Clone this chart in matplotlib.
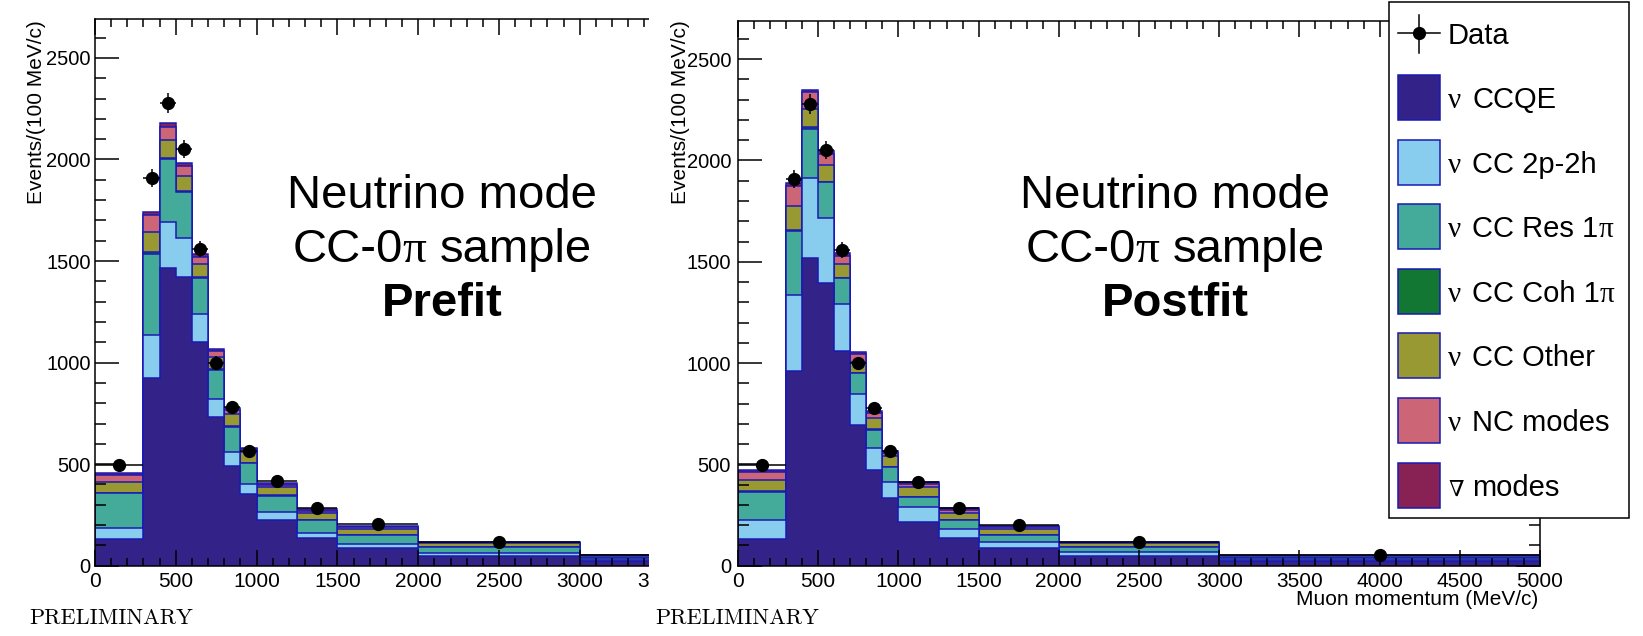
import numpy as np
import matplotlib
matplotlib.use("Agg")
import matplotlib.pyplot as plt
from matplotlib.patches import Rectangle
from matplotlib.lines import Line2D
from matplotlib.ticker import MultipleLocator, FixedLocator

plt.rcParams['font.family'] = ['Liberation Sans', 'DejaVu Sans']

W, H, DPI = 1643, 636, 100

# ---- binning (muon momentum, MeV/c) and observed events per 100 MeV/c ----
edges = [0, 300, 400, 500, 600, 700, 800, 900, 1000, 1250, 1500, 2000, 3000, 5000]
data = [496, 1910, 2279, 2050, 1560, 999, 780, 567, 415, 283, 203, 117, 52]
data_err = [13, 44, 48, 45, 40, 32, 28, 24, 13, 11, 6, 3, 2]

# ---- prefit prediction, per interaction mode ----
pre_ccqe  = [130, 925, 1465, 1421, 1099, 731, 490, 352, 226, 138, 89, 48, 22]
pre_2p2h  = [57, 212, 226, 190, 140, 92, 70, 49, 36, 23, 16, 13, 7]
pre_res   = [171, 398, 309, 227, 176, 142, 125, 103, 83, 64, 46, 30, 10]
pre_coh   = [2, 10, 8, 6, 4, 3, 2, 2, 1, 1, 1, 0.5, 0.3]
pre_other = [52, 100, 86, 76, 64, 57, 58, 56, 42, 32, 29, 18.5, 8]
pre_nc    = [34, 80, 66, 48, 38, 30, 20, 11, 10, 11, 8, 3, 3]
pre_anu   = [12, 16, 18, 16, 12, 12, 10, 5, 8, 8, 7, 4, 2]

# ---- postfit prediction, per interaction mode ----
post_ccqe  = [131, 959, 1517, 1396, 1059, 694, 471, 332, 217, 135, 89, 49, 22]
post_2p2h  = [97, 375, 395, 321, 231, 155, 110, 82, 71, 47, 28, 17, 8]
post_res   = [138, 317, 245, 175, 128, 100, 91, 74, 52, 43, 34, 25, 9]
post_coh   = [2, 8, 6, 4, 3, 2, 2, 1, 1, 1, 1, 0.5, 0.3]
post_other = [54, 115, 90, 80, 66, 52, 55, 51, 48, 35, 29, 18.5, 8]
post_nc    = [40, 98, 84, 56, 44, 40, 27, 17, 13, 13, 8, 3, 3]
post_anu   = [12, 16, 12, 17, 10, 14, 6, 8, 9, 12, 7, 5, 2]

mode_colors = ['#332288', '#88CCEE', '#44AA99', '#117733', '#999933', '#CC6677', '#882255']
mode_labels = [('ν', 'CCQE', ''), ('ν', 'CC 2p-2h', ''), ('ν', 'CC Res 1', 'π'),
               ('ν', 'CC Coh 1', 'π'), ('ν', 'CC Other', ''), ('ν', 'NC modes', ''),
               ('∇', 'modes', '')]
EDGE = '#1a1ab4'
SANS = ['Liberation Sans', 'DejaVu Sans']
SERIF = ['Liberation Serif', 'DejaVu Serif']

fig = plt.figure(figsize=(W / DPI, H / DPI), dpi=DPI)
fig.patch.set_facecolor('white')
renderer = fig.canvas.get_renderer()


def fx(px):
    return px / W


def fy(py):
    return 1 - py / H


def axes_px(x0, y0, x1, y1, **kw):
    return fig.add_axes([fx(x0), fy(y1), (x1 - x0) / W, (y1 - y0) / H], **kw)


def draw_panel(ax, comps, xticks):
    e = np.array(edges, dtype=float)
    cum = np.cumsum(np.array(comps, dtype=float), axis=0)
    for k in range(len(comps) - 1, -1, -1):
        ax.stairs(cum[k], e, baseline=0, fill=True, facecolor=mode_colors[k],
                  edgecolor=EDGE, linewidth=1.1, zorder=1)
    centers = 0.5 * (e[:-1] + e[1:])
    half = 0.5 * np.diff(e)
    ax.errorbar(centers, data, xerr=half, yerr=data_err, fmt='o', color='k',
                ms=8.5, elinewidth=1.1, capsize=0, zorder=4)
    ax.set_xlim(0, 5000)
    ax.set_ylim(0, 2690)
    ax.xaxis.set_major_locator(FixedLocator(xticks))
    ax.xaxis.set_minor_locator(MultipleLocator(100))
    ax.yaxis.set_major_locator(MultipleLocator(500))
    ax.yaxis.set_minor_locator(MultipleLocator(100))
    ax.tick_params(axis='both', which='both', direction='in', top=True, right=True,
                   width=1.1, colors='k')
    ax.tick_params(axis='x', which='major', length=11.5, labelsize=15, pad=4.5)
    ax.tick_params(axis='x', which='minor', length=5.8)
    ax.tick_params(axis='y', which='major', length=17, labelsize=14.5)
    ax.tick_params(axis='y', which='minor', length=8)
    ax.set_axisbelow(False)
    for s in ax.spines.values():
        s.set_linewidth(1.1)
        s.set_zorder(5)


def rich_text(parts, x, y_base, size, align='center', weight='normal', zorder=6):
    """parts: list of (string, family, gap_after_px)."""
    items = []
    for s, fam, gap in parts:
        t = fig.text(0, 0, s, fontsize=size, family=fam, weight=weight,
                     ha='left', va='baseline', zorder=zorder)
        w = t.get_window_extent(renderer).width
        items.append((t, w, gap))
    total = sum(w + g for _, w, g in items) - items[-1][2]
    cx = x - total / 2 if align == 'center' else x
    for t, w, g in items:
        t.set_position((fx(cx), fy(y_base)))
        cx += w + g


# ---- left panel (prefit) ----
ax_l = axes_px(95, 19.3, 903, 565.7, zorder=0)
draw_panel(ax_l, [pre_ccqe, pre_2p2h, pre_res, pre_coh, pre_other, pre_nc, pre_anu],
           list(range(0, 4000, 500)))
ax_l.tick_params(axis='y', which='major', pad=3)

# the right panel sits on its own white sheet, overlapping the left one
fig.add_artist(Rectangle((fx(649), 0), 1 - fx(649), 1, transform=fig.transFigure,
                         facecolor='white', edgecolor='none', zorder=1))

# ---- right panel (postfit) ----
ax_r = axes_px(738, 20.7, 1540, 565.7, zorder=2)
draw_panel(ax_r, [post_ccqe, post_2p2h, post_res, post_coh, post_other, post_nc, post_anu],
           list(range(0, 5001, 500)))
ax_r.tick_params(axis='y', which='major', pad=5)

# ---- axis titles ----
for xc in (36.5, 680):
    fig.text(fx(xc), fy(20), 'Events/(100 MeV/c)', rotation=90, ha='center', va='top',
             fontsize=15, zorder=6)
fig.text(fx(1538), fy(605), 'Muon momentum (MeV/c)', ha='right', va='baseline',
         fontsize=15, zorder=6)

# ---- panel annotations ----
space34 = 0.278 * 34 * DPI / 72
for xc, stage in ((442, 'Prefit'), (1175, 'Postfit')):
    fig.text(fx(xc), fy(208), 'Neutrino mode', ha='center', va='baseline',
             fontsize=34, zorder=6)
    rich_text([('CC-0', SANS, 0), ('π', SERIF, space34), ('sample', SANS, 0)],
              xc, 262, 34)
    fig.text(fx(xc), fy(316), stage, ha='center', va='baseline', fontsize=34,
             weight='bold', zorder=6)

for x0 in (29, 655):
    fig.text(fx(x0), fy(624), 'PRELIMINARY', ha='left', va='baseline', fontsize=16,
             family=['cmr10', 'DejaVu Serif'], zorder=6)

# ---- legend ----
fig.add_artist(Rectangle((fx(1389), fy(517.7)), 240 / W, 516 / H, transform=fig.transFigure,
                         facecolor='white', edgecolor='k', linewidth=1.1, zorder=10))
pitch = (485 - 33) / 7
leg_size = 21
c = 33
fig.add_artist(Line2D([fx(1398), fx(1440)], [fy(c), fy(c)], color='k', lw=1.1,
                      transform=fig.transFigure, zorder=11))
fig.add_artist(Line2D([fx(1419), fx(1419)], [fy(c - 18), fy(c + 20)], color='k', lw=1.1,
                      transform=fig.transFigure, zorder=11))
fig.add_artist(Line2D([fx(1419)], [fy(c)], marker='o', ms=8.5, color='k',
                      transform=fig.transFigure, zorder=11))
fig.text(fx(1448), fy(c + 11), 'Data', fontsize=leg_size, ha='left', va='baseline', zorder=12)

for i, (col, (greek, body, tail)) in enumerate(zip(mode_colors, mode_labels)):
    c = 33 + pitch * (i + 1)
    fig.add_artist(Rectangle((fx(1398), fy(c + 22.5)), 42 / W, 45 / H,
                             transform=fig.transFigure, facecolor=col, edgecolor=EDGE,
                             linewidth=1.1, zorder=11))
    gsize = leg_size if greek == 'ν' else 16
    fig.text(fx(1448), fy(c + 10.6), greek, fontsize=gsize, family=SERIF,
             ha='left', va='baseline', zorder=12)
    parts = [(body, SANS, 0)]
    if tail:
        parts.append((tail, SERIF, 0))
    rich_text(parts, 1472, c + 10.6, leg_size, align='left', zorder=12)

fig.savefig('out.png', dpi=DPI)
